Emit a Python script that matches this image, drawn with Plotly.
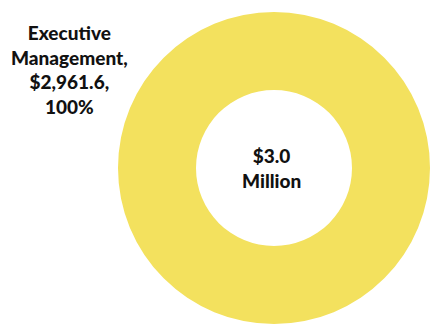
import plotly.graph_objects as go

# Budget breakdown (thousands of dollars)
categories = ["Executive Management"]
amounts = [2961.6]
slice_colors = ["#F3E15E"]

W, H = 432, 324
total = sum(amounts)
shares = [a / total * 100 for a in amounts]

fig = go.Figure(
    go.Pie(
        labels=categories,
        values=amounts,
        hole=0.5,
        sort=False,
        direction="clockwise",
        textinfo="none",
        hoverinfo="label+value+percent",
        marker=dict(colors=slice_colors, line=dict(width=0)),
        showlegend=False,
        domain=dict(x=[118 / W, 430 / W], y=[0.0, 1 - 12 / H]),
    )
)

font_family = "Lato, 'Open Sans', sans-serif"

# Outside category label
for cat, amt, pct in zip(categories, amounts, shares):
    words = cat.split(" ")
    label = "<br>".join(words[:-1] + [words[-1] + ","]) + f"<br>${amt:,.1f},<br>{pct:.0f}%"
    fig.add_annotation(
        text=label,
        x=69 / W, y=1 - 70 / H,
        xref="paper", yref="paper",
        xanchor="center", yanchor="middle",
        showarrow=False,
        align="center",
        font=dict(family=font_family, size=19, color="#111111", weight=900),
    )

# Total in the centre of the ring
fig.add_annotation(
    text=f"${total / 1000:.1f}<br>Million",
    x=271 / W, y=1 - 168 / H,
    xref="paper", yref="paper",
    xanchor="center", yanchor="middle",
    showarrow=False,
    align="center",
    font=dict(family=font_family, size=19, color="#111111", weight=900),
)

fig.update_layout(
    width=W, height=H,
    margin=dict(l=0, r=0, t=0, b=0),
    paper_bgcolor="white",
    plot_bgcolor="white",
)

fig.write_html("out.html")
